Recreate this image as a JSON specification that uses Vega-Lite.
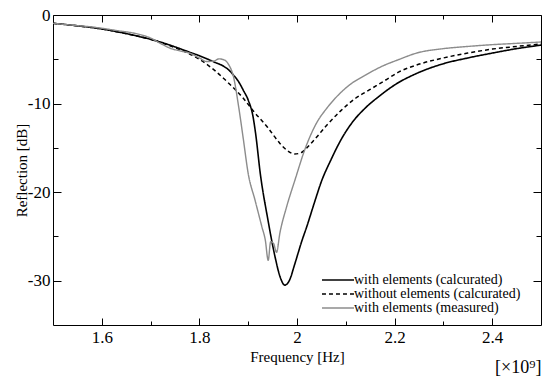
{
  "$schema": "https://vega.github.io/schema/vega-lite/v6.json",
  "width": 488,
  "height": 310,
  "autosize": "none",
  "padding": {"left": 53, "top": 15, "right": 8, "bottom": 53},
  "background": "white",
  "title": {"text": "[×10⁹]", "orient": "bottom", "anchor": "end", "font": "Liberation Serif", "fontSize": 18, "fontWeight": "normal", "color": "black", "offset": -5},
  "config": {
    "view": {"stroke": null},
    "axis": {"domainColor": "black", "domainWidth": 1, "tickColor": "black", "tickWidth": 1, "labelFont": "Liberation Serif", "titleFont": "Liberation Serif", "labelColor": "black", "titleColor": "black", "labelFontSize": 17, "titleFontSize": 15, "titleFontWeight": "normal", "grid": false},
    "legend": {"labelFont": "Liberation Serif", "labelFontSize": 14, "labelColor": "black", "labelLimit": 400}
  },
  "data": {"values": [
    {"s": "with elements (calcurated)", "f": 1.50, "r": -0.94},
    {"s": "with elements (calcurated)", "f": 1.55, "r": -1.22},
    {"s": "with elements (calcurated)", "f": 1.60, "r": -1.58},
    {"s": "with elements (calcurated)", "f": 1.65, "r": -2.1},
    {"s": "with elements (calcurated)", "f": 1.70, "r": -2.75},
    {"s": "with elements (calcurated)", "f": 1.72, "r": -3.05},
    {"s": "with elements (calcurated)", "f": 1.75, "r": -3.6},
    {"s": "with elements (calcurated)", "f": 1.775, "r": -4.1},
    {"s": "with elements (calcurated)", "f": 1.80, "r": -4.6},
    {"s": "with elements (calcurated)", "f": 1.83, "r": -5.3},
    {"s": "with elements (calcurated)", "f": 1.85, "r": -5.8},
    {"s": "with elements (calcurated)", "f": 1.86, "r": -6.2},
    {"s": "with elements (calcurated)", "f": 1.87, "r": -6.8},
    {"s": "with elements (calcurated)", "f": 1.88, "r": -7.5},
    {"s": "with elements (calcurated)", "f": 1.89, "r": -8.5},
    {"s": "with elements (calcurated)", "f": 1.90, "r": -9.6},
    {"s": "with elements (calcurated)", "f": 1.91, "r": -11.5},
    {"s": "with elements (calcurated)", "f": 1.915, "r": -13.3},
    {"s": "with elements (calcurated)", "f": 1.925, "r": -18.0},
    {"s": "with elements (calcurated)", "f": 1.94, "r": -23.0},
    {"s": "with elements (calcurated)", "f": 1.955, "r": -27.3},
    {"s": "with elements (calcurated)", "f": 1.965, "r": -29.5},
    {"s": "with elements (calcurated)", "f": 1.975, "r": -30.5},
    {"s": "with elements (calcurated)", "f": 1.985, "r": -29.9},
    {"s": "with elements (calcurated)", "f": 1.995, "r": -28.2},
    {"s": "with elements (calcurated)", "f": 2.01, "r": -25.5},
    {"s": "with elements (calcurated)", "f": 2.02, "r": -23.9},
    {"s": "with elements (calcurated)", "f": 2.035, "r": -21.3},
    {"s": "with elements (calcurated)", "f": 2.05, "r": -18.8},
    {"s": "with elements (calcurated)", "f": 2.07, "r": -16.3},
    {"s": "with elements (calcurated)", "f": 2.09, "r": -14.1},
    {"s": "with elements (calcurated)", "f": 2.115, "r": -12.0},
    {"s": "with elements (calcurated)", "f": 2.14, "r": -10.5},
    {"s": "with elements (calcurated)", "f": 2.17, "r": -9.1},
    {"s": "with elements (calcurated)", "f": 2.2, "r": -7.9},
    {"s": "with elements (calcurated)", "f": 2.245, "r": -6.6},
    {"s": "with elements (calcurated)", "f": 2.3, "r": -5.5},
    {"s": "with elements (calcurated)", "f": 2.35, "r": -4.85},
    {"s": "with elements (calcurated)", "f": 2.4, "r": -4.3},
    {"s": "with elements (calcurated)", "f": 2.45, "r": -3.8},
    {"s": "with elements (calcurated)", "f": 2.5, "r": -3.4},
    {"s": "without elements (calcurated)", "f": 1.50, "r": -0.94},
    {"s": "without elements (calcurated)", "f": 1.55, "r": -1.22},
    {"s": "without elements (calcurated)", "f": 1.60, "r": -1.58},
    {"s": "without elements (calcurated)", "f": 1.65, "r": -2.1},
    {"s": "without elements (calcurated)", "f": 1.70, "r": -2.75},
    {"s": "without elements (calcurated)", "f": 1.75, "r": -3.7},
    {"s": "without elements (calcurated)", "f": 1.78, "r": -4.4},
    {"s": "without elements (calcurated)", "f": 1.80, "r": -5.0},
    {"s": "without elements (calcurated)", "f": 1.83, "r": -6.2},
    {"s": "without elements (calcurated)", "f": 1.86, "r": -7.7},
    {"s": "without elements (calcurated)", "f": 1.89, "r": -9.4},
    {"s": "without elements (calcurated)", "f": 1.91, "r": -10.8},
    {"s": "without elements (calcurated)", "f": 1.94, "r": -12.7},
    {"s": "without elements (calcurated)", "f": 1.965, "r": -14.5},
    {"s": "without elements (calcurated)", "f": 1.98, "r": -15.3},
    {"s": "without elements (calcurated)", "f": 1.995, "r": -15.7},
    {"s": "without elements (calcurated)", "f": 2.01, "r": -15.5},
    {"s": "without elements (calcurated)", "f": 2.02, "r": -15.0},
    {"s": "without elements (calcurated)", "f": 2.04, "r": -13.8},
    {"s": "without elements (calcurated)", "f": 2.06, "r": -12.5},
    {"s": "without elements (calcurated)", "f": 2.09, "r": -10.8},
    {"s": "without elements (calcurated)", "f": 2.12, "r": -9.4},
    {"s": "without elements (calcurated)", "f": 2.15, "r": -8.4},
    {"s": "without elements (calcurated)", "f": 2.18, "r": -7.4},
    {"s": "without elements (calcurated)", "f": 2.21, "r": -6.4},
    {"s": "without elements (calcurated)", "f": 2.245, "r": -5.65},
    {"s": "without elements (calcurated)", "f": 2.3, "r": -4.85},
    {"s": "without elements (calcurated)", "f": 2.35, "r": -4.3},
    {"s": "without elements (calcurated)", "f": 2.4, "r": -3.85},
    {"s": "without elements (calcurated)", "f": 2.45, "r": -3.55},
    {"s": "without elements (calcurated)", "f": 2.5, "r": -3.27},
    {"s": "with elements (measured)", "f": 1.50, "r": -0.94},
    {"s": "with elements (measured)", "f": 1.55, "r": -1.2},
    {"s": "with elements (measured)", "f": 1.58, "r": -1.35},
    {"s": "with elements (measured)", "f": 1.60, "r": -1.5},
    {"s": "with elements (measured)", "f": 1.63, "r": -1.75},
    {"s": "with elements (measured)", "f": 1.67, "r": -2.1},
    {"s": "with elements (measured)", "f": 1.70, "r": -2.6},
    {"s": "with elements (measured)", "f": 1.72, "r": -3.2},
    {"s": "with elements (measured)", "f": 1.74, "r": -3.75},
    {"s": "with elements (measured)", "f": 1.76, "r": -4.05},
    {"s": "with elements (measured)", "f": 1.78, "r": -4.3},
    {"s": "with elements (measured)", "f": 1.80, "r": -4.85},
    {"s": "with elements (measured)", "f": 1.815, "r": -5.25},
    {"s": "with elements (measured)", "f": 1.83, "r": -5.2},
    {"s": "with elements (measured)", "f": 1.84, "r": -4.95},
    {"s": "with elements (measured)", "f": 1.85, "r": -5.05},
    {"s": "with elements (measured)", "f": 1.86, "r": -5.6},
    {"s": "with elements (measured)", "f": 1.87, "r": -7.0},
    {"s": "with elements (measured)", "f": 1.88, "r": -10.2},
    {"s": "with elements (measured)", "f": 1.89, "r": -14.0},
    {"s": "with elements (measured)", "f": 1.90, "r": -17.9},
    {"s": "with elements (measured)", "f": 1.914, "r": -20.9},
    {"s": "with elements (measured)", "f": 1.928, "r": -23.9},
    {"s": "with elements (measured)", "f": 1.935, "r": -25.4},
    {"s": "with elements (measured)", "f": 1.941, "r": -27.7},
    {"s": "with elements (measured)", "f": 1.946, "r": -25.6},
    {"s": "with elements (measured)", "f": 1.952, "r": -25.8},
    {"s": "with elements (measured)", "f": 1.958, "r": -26.8},
    {"s": "with elements (measured)", "f": 1.965, "r": -24.6},
    {"s": "with elements (measured)", "f": 1.979, "r": -21.6},
    {"s": "with elements (measured)", "f": 1.996, "r": -18.6},
    {"s": "with elements (measured)", "f": 2.016, "r": -15.2},
    {"s": "with elements (measured)", "f": 2.04, "r": -12.2},
    {"s": "with elements (measured)", "f": 2.06, "r": -10.6},
    {"s": "with elements (measured)", "f": 2.08, "r": -9.3},
    {"s": "with elements (measured)", "f": 2.11, "r": -7.8},
    {"s": "with elements (measured)", "f": 2.14, "r": -6.8},
    {"s": "with elements (measured)", "f": 2.17, "r": -5.9},
    {"s": "with elements (measured)", "f": 2.21, "r": -5.0},
    {"s": "with elements (measured)", "f": 2.245, "r": -4.3},
    {"s": "with elements (measured)", "f": 2.3, "r": -3.8},
    {"s": "with elements (measured)", "f": 2.35, "r": -3.55},
    {"s": "with elements (measured)", "f": 2.4, "r": -3.35},
    {"s": "with elements (measured)", "f": 2.45, "r": -3.2},
    {"s": "with elements (measured)", "f": 2.5, "r": -3.05}
  ]},
  "resolve": {"axis": {"x": "independent", "y": "independent"}},
  "layer": [
    {
      "mark": {"type": "line", "interpolate": "monotone", "clip": true},
      "encoding": {
        "x": {"field": "f", "type": "quantitative", "scale": {"domain": [1.5, 2.5], "nice": false, "zero": false},
          "axis": {"orient": "bottom", "title": "Frequency [Hz]", "values": [1.6, 1.7, 1.8, 1.9, 2, 2.1, 2.2, 2.3, 2.4],
            "labelExpr": "round(datum.value*10) % 2 == 0 ? '' + datum.value : ''",
            "tickSize": {"condition": {"test": "round(datum.value*10) % 2 == 0", "value": -7}, "value": -4},
            "labelPadding": 11, "titlePadding": 4}},
        "y": {"field": "r", "type": "quantitative", "scale": {"domain": [-35, 0], "nice": false, "zero": false},
          "axis": {"orient": "left", "title": "Reflection [dB]", "values": [-30, -25, -20, -15, -10, -5, 0],
            "labelExpr": "datum.value % 10 == 0 ? '' + datum.value : ''",
            "tickSize": {"condition": {"test": "datum.value % 10 == 0", "value": -8}, "value": -5},
            "labelPadding": 11, "titlePadding": -2}},
        "color": {"field": "s", "type": "nominal",
          "scale": {"domain": ["with elements (calcurated)", "without elements (calcurated)", "with elements (measured)"], "range": ["#000000", "#000000", "#8c8c8c"]},
          "legend": {"title": null, "orient": "none", "legendX": 278, "legendY": 258, "symbolType": "M-3,0H3", "symbolSize": 114, "symbolStrokeWidth": 1.2, "labelOffset": 9, "rowPadding": 0, "padding": 0}},
        "strokeDash": {"field": "s", "type": "nominal",
          "scale": {"domain": ["with elements (calcurated)", "without elements (calcurated)", "with elements (measured)"], "range": [[1, 0], [4, 3], [1, 0]]},
          "legend": null},
        "strokeWidth": {"field": "s", "type": "nominal",
          "scale": {"domain": ["with elements (calcurated)", "without elements (calcurated)", "with elements (measured)"], "range": [1.6, 1.4, 1]},
          "legend": null}
      }
    },
    {
      "mark": {"type": "line", "opacity": 0},
      "encoding": {
        "x": {"field": "f", "type": "quantitative",
          "axis": {"orient": "top", "title": null, "labels": false, "values": [1.6, 1.7, 1.8, 1.9, 2, 2.1, 2.2, 2.3, 2.4],
            "tickSize": {"condition": {"test": "round(datum.value*10) % 2 == 0", "value": -7}, "value": -4}}},
        "y": {"field": "r", "type": "quantitative",
          "axis": {"orient": "right", "title": null, "labels": false, "values": [-30, -25, -20, -15, -10, -5, 0],
            "tickSize": {"condition": {"test": "datum.value % 10 == 0", "value": -8}, "value": -5}}},
        "detail": {"field": "s", "type": "nominal"}
      }
    }
  ]
}
